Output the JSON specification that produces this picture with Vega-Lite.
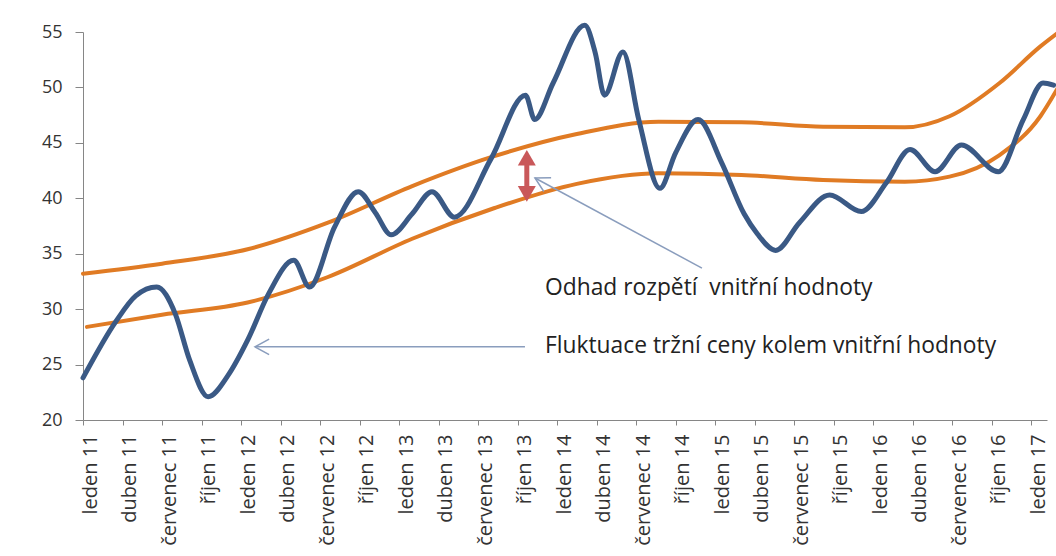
{
  "$schema": "https://vega.github.io/schema/vega-lite/v6.json",
  "width": 964,
  "height": 388,
  "autosize": {"type": "none"},
  "padding": {"left": 83, "top": 32, "right": 9, "bottom": 136},
  "background": "white",
  "config": {"view": {"stroke": null}, "font": "Open Sans"},
  "datasets": {
    "price": [
      {"m": 0, "v": 23.8}, {"m": 2.5, "v": 28.9}, {"m": 4, "v": 31.2}, {"m": 5.6, "v": 32.0},
      {"m": 7.0, "v": 29.6}, {"m": 8.1, "v": 25.4}, {"m": 9.5, "v": 22.1}, {"m": 11, "v": 24.0},
      {"m": 12.5, "v": 27.2}, {"m": 14.1, "v": 31.4}, {"m": 16.0, "v": 34.4}, {"m": 17.2, "v": 32.0},
      {"m": 19.1, "v": 37.4}, {"m": 20.9, "v": 40.6}, {"m": 22.2, "v": 38.7}, {"m": 23.4, "v": 36.7},
      {"m": 25.0, "v": 38.6}, {"m": 26.5, "v": 40.6}, {"m": 28.2, "v": 38.3}, {"m": 31.0, "v": 43.6},
      {"m": 33.6, "v": 49.3}, {"m": 34.3, "v": 47.1}, {"m": 35.7, "v": 50.4}, {"m": 38.1, "v": 55.6},
      {"m": 38.9, "v": 53.1}, {"m": 39.6, "v": 49.3}, {"m": 41.0, "v": 53.2}, {"m": 42.2, "v": 47.1},
      {"m": 43.8, "v": 40.9}, {"m": 45.0, "v": 44.1}, {"m": 46.7, "v": 47.1}, {"m": 48.5, "v": 43.2},
      {"m": 50.2, "v": 38.6}, {"m": 51.2, "v": 36.8}, {"m": 52.6, "v": 35.3}, {"m": 54.4, "v": 37.8},
      {"m": 56.7, "v": 40.3}, {"m": 59.1, "v": 38.8}, {"m": 61.0, "v": 41.4}, {"m": 62.8, "v": 44.4},
      {"m": 64.7, "v": 42.4}, {"m": 66.7, "v": 44.8}, {"m": 69.5, "v": 42.4}, {"m": 71.4, "v": 47.1},
      {"m": 72.9, "v": 50.4}, {"m": 73.7, "v": 50.2}
    ],
    "band": [
      {"s": "upper", "m": 0, "v": 33.2}, {"s": "upper", "m": 6, "v": 34.1}, {"s": "upper", "m": 12.5, "v": 35.4},
      {"s": "upper", "m": 18.6, "v": 37.8}, {"s": "upper", "m": 25, "v": 41.1}, {"s": "upper", "m": 31.1, "v": 43.75},
      {"s": "upper", "m": 37.5, "v": 45.8}, {"s": "upper", "m": 43.7, "v": 46.9}, {"s": "upper", "m": 50, "v": 46.85},
      {"s": "upper", "m": 56.2, "v": 46.45}, {"s": "upper", "m": 62.4, "v": 46.4}, {"s": "upper", "m": 65.8, "v": 47.4},
      {"s": "upper", "m": 69.6, "v": 50.4}, {"s": "upper", "m": 72.7, "v": 53.7}, {"s": "upper", "m": 74, "v": 54.9},
      {"s": "lower", "m": 0.3, "v": 28.4}, {"s": "lower", "m": 6, "v": 29.5}, {"s": "lower", "m": 12.5, "v": 30.6},
      {"s": "lower", "m": 18.6, "v": 32.9}, {"s": "lower", "m": 25, "v": 36.35}, {"s": "lower", "m": 31.2, "v": 39.1},
      {"s": "lower", "m": 37.5, "v": 41.3}, {"s": "lower", "m": 43.7, "v": 42.25}, {"s": "lower", "m": 50, "v": 42.1},
      {"s": "lower", "m": 56.2, "v": 41.65}, {"s": "lower", "m": 62.4, "v": 41.5}, {"s": "lower", "m": 65.8, "v": 41.95},
      {"s": "lower", "m": 69.6, "v": 43.9}, {"s": "lower", "m": 72.7, "v": 47.4}, {"s": "lower", "m": 74, "v": 49.9}
    ],
    "arrows": [
      {"m": 33.56, "v": 26.6, "m2": 13.06, "v2": 26.6, "angle": 0},
      {"m": 47.0, "v": 33.7, "m2": 34.32, "v2": 41.83, "angle": 28}
    ],
    "labels": [
      {"m": 35.08, "v": 31.28, "t": "Odhad rozpětí \u00a0vnitřní hodnoty"},
      {"m": 35.08, "v": 26.04, "t": "Fluktuace tržní ceny kolem vnitřní hodnoty"}
    ],
    "range": [
      {"m": 33.7, "top": 43.65, "bottom": 40.4}
    ]
  },
  "layer": [
    {
      "data": {"name": "band"},
      "mark": {"type": "line", "interpolate": "monotone", "strokeWidth": 4, "color": "#e07b24", "strokeCap": "round"},
      "encoding": {
        "x": {
          "field": "m", "type": "quantitative",
          "scale": {"domain": [0, 73.2], "nice": false, "zero": false},
          "axis": {
            "title": null, "grid": false,
            "values": [0, 3, 6, 9, 12, 15, 18, 21, 24, 27, 30, 33, 36, 39, 42, 45, 48, 51, 54, 57, 60, 63, 66, 69, 72],
            "labelExpr": "['leden','duben','červenec','říjen'][(datum.value/3)%4] + ' ' + (11 + floor(datum.value/12))",
            "labelAngle": -90, "labelFontSize": 20, "labelColor": "#333333", "labelPadding": 9,
            "labelOffset": 7, "labelOverlap": false, "labelFlush": false, "labelBound": false,
            "domainColor": "#868686", "tickColor": "#868686", "tickSize": 5
          }
        },
        "y": {
          "field": "v", "type": "quantitative",
          "scale": {"domain": [20, 55], "nice": false, "zero": false},
          "axis": {
            "title": null, "grid": false, "values": [20, 25, 30, 35, 40, 45, 50, 55],
            "labelFontSize": 18, "labelColor": "#333333", "labelPadding": 13,
            "domainColor": "#868686", "tickColor": "#868686", "tickSize": 8
          }
        },
        "detail": {"field": "s", "type": "nominal"}
      }
    },
    {
      "data": {"name": "price"},
      "mark": {"type": "line", "interpolate": "monotone", "strokeWidth": 5, "color": "#3a5985", "strokeCap": "round"},
      "encoding": {
        "x": {"field": "m", "type": "quantitative"},
        "y": {"field": "v", "type": "quantitative"}
      }
    },
    {
      "data": {"name": "arrows"},
      "mark": {"type": "rule", "color": "#8a9dbd", "strokeWidth": 1.5},
      "encoding": {
        "x": {"field": "m", "type": "quantitative"},
        "y": {"field": "v", "type": "quantitative"},
        "x2": {"field": "m2"},
        "y2": {"field": "v2"}
      }
    },
    {
      "data": {"name": "arrows"},
      "mark": {"type": "point", "shape": "M1,-0.55L0,0L1,0.55", "filled": false, "color": "#8a9dbd", "strokeWidth": 1.5, "size": 800, "opacity": 1},
      "encoding": {
        "x": {"field": "m2", "type": "quantitative"},
        "y": {"field": "v2", "type": "quantitative"},
        "angle": {"field": "angle", "type": "quantitative", "scale": null}
      }
    },
    {
      "data": {"name": "range"},
      "mark": {"type": "rule", "color": "#c9585a", "strokeWidth": 5},
      "encoding": {
        "x": {"field": "m", "type": "quantitative"},
        "y": {"field": "top", "type": "quantitative"},
        "y2": {"field": "bottom"}
      }
    },
    {
      "data": {"name": "range"},
      "mark": {"type": "point", "shape": "triangle-up", "filled": true, "color": "#c9585a", "size": 324, "opacity": 1},
      "encoding": {
        "x": {"field": "m", "type": "quantitative"},
        "y": {"field": "top", "type": "quantitative"}
      }
    },
    {
      "data": {"name": "range"},
      "mark": {"type": "point", "shape": "triangle-down", "filled": true, "color": "#c9585a", "size": 324, "opacity": 1},
      "encoding": {
        "x": {"field": "m", "type": "quantitative"},
        "y": {"field": "bottom", "type": "quantitative"}
      }
    },
    {
      "data": {"name": "labels"},
      "mark": {"type": "text", "align": "left", "baseline": "alphabetic", "fontSize": 22.8, "color": "#222222"},
      "encoding": {
        "x": {"field": "m", "type": "quantitative"},
        "y": {"field": "v", "type": "quantitative"},
        "text": {"field": "t", "type": "nominal"}
      }
    }
  ]
}
